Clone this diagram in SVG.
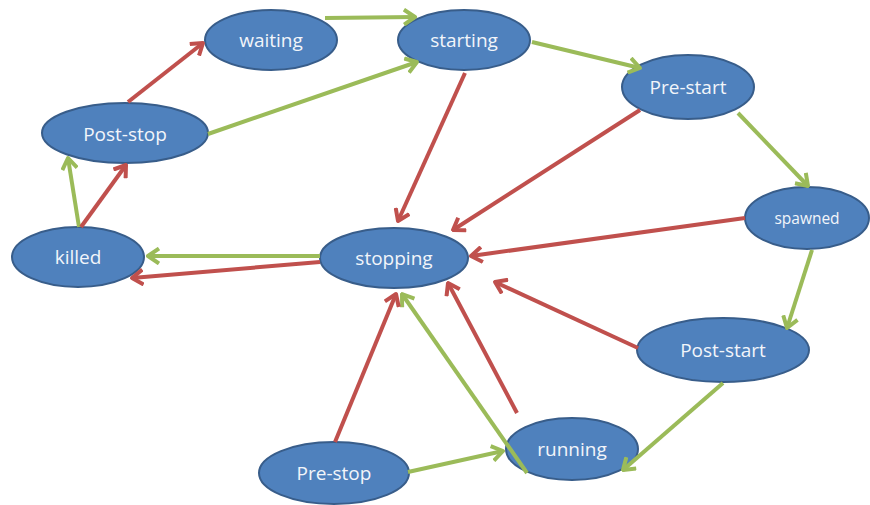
<svg xmlns="http://www.w3.org/2000/svg" width="870" height="505" viewBox="0 0 870 505">
  <style>
    .node ellipse { fill: #4f81bd; stroke: #385d8a; stroke-width: 2; }
    .node text { fill: #f2f5fa; font-family: "Open Sans", "Noto Sans", sans-serif; font-size: 19px; text-anchor: middle; dominant-baseline: central; }
    .g { stroke: #9bbb59; stroke-width: 4; fill: none; marker-end: url(#ah-g); }
    .r { stroke: #c0504d; stroke-width: 4; fill: none; marker-end: url(#ah-r); }
  </style>
  <defs>
    <marker id="ah-g" viewBox="0 0 14 18" refX="12" refY="9" markerWidth="14" markerHeight="18" markerUnits="userSpaceOnUse" orient="auto">
      <path d="M1,1.5 L12,9 L1,16.5" fill="none" stroke="#9bbb59" stroke-width="4" stroke-linejoin="round"/>
    </marker>
    <marker id="ah-r" viewBox="0 0 14 18" refX="12" refY="9" markerWidth="14" markerHeight="18" markerUnits="userSpaceOnUse" orient="auto">
      <path d="M1,1.5 L12,9 L1,16.5" fill="none" stroke="#c0504d" stroke-width="4" stroke-linejoin="round"/>
    </marker>
  </defs>
  <rect width="870" height="505" fill="#ffffff"/>

  <g id="waiting" class="node"><ellipse cx="271" cy="40" rx="66" ry="30"/><text x="271" y="40">waiting</text></g>
  <g id="starting" class="node"><ellipse cx="464" cy="40" rx="66" ry="30"/><text x="464" y="40">starting</text></g>
  <g id="pre-start" class="node"><ellipse cx="688" cy="87" rx="66" ry="32"/><text x="688" y="87">Pre-start</text></g>
  <g id="post-stop" class="node"><ellipse cx="125" cy="133" rx="83" ry="30"/><text x="125" y="134">Post-stop</text></g>
  <g id="spawned" class="node"><ellipse cx="807" cy="218" rx="62" ry="31"/><text x="807" y="218" style="font-size:15.5px">spawned</text></g>
  <g id="killed" class="node"><ellipse cx="78" cy="257" rx="66" ry="30"/><text x="78" y="257">killed</text></g>
  <g id="stopping" class="node"><ellipse cx="394" cy="258" rx="74" ry="30"/><text x="394" y="258">stopping</text></g>
  <g id="post-start" class="node"><ellipse cx="723" cy="350" rx="86" ry="32"/><text x="723" y="350">Post-start</text></g>
  <g id="running" class="node"><ellipse cx="572" cy="449" rx="66" ry="31"/><text x="572" y="449">running</text></g>
  <g id="pre-stop" class="node"><ellipse cx="334" cy="473" rx="75" ry="31"/><text x="334" y="473">Pre-stop</text></g>

  <g id="connectors">
    <!-- normal flow -->
    <line class="g" x1="325" y1="18" x2="415" y2="17"/>
    <line class="g" x1="208" y1="134" x2="417" y2="62"/>
    <line class="g" x1="532" y1="42" x2="640" y2="68"/>
    <line class="g" x1="738" y1="113" x2="808" y2="186"/>
    <line class="g" x1="812" y1="250" x2="787" y2="328"/>
    <line class="g" x1="723" y1="383" x2="623" y2="470"/>
    <line class="g" x1="408" y1="472" x2="503" y2="451"/>
    <line class="g" x1="527" y1="473" x2="402" y2="294"/>
    <line class="g" x1="320" y1="256" x2="148" y2="256"/>
    <line class="g" x1="79" y1="227" x2="68" y2="158"/>
    <!-- stop / failure flow -->
    <line class="r" x1="128" y1="102" x2="203" y2="43"/>
    <line class="r" x1="81" y1="227" x2="126" y2="165"/>
    <line class="r" x1="465" y1="73" x2="398" y2="221"/>
    <line class="r" x1="640" y1="110" x2="453" y2="230"/>
    <line class="r" x1="745" y1="218" x2="471" y2="256"/>
    <line class="r" x1="638" y1="348" x2="495" y2="282"/>
    <line class="r" x1="517" y1="413" x2="448" y2="283"/>
    <line class="r" x1="335" y1="442" x2="396" y2="294"/>
    <line class="r" x1="320" y1="262" x2="132" y2="278"/>
  </g>
</svg>
